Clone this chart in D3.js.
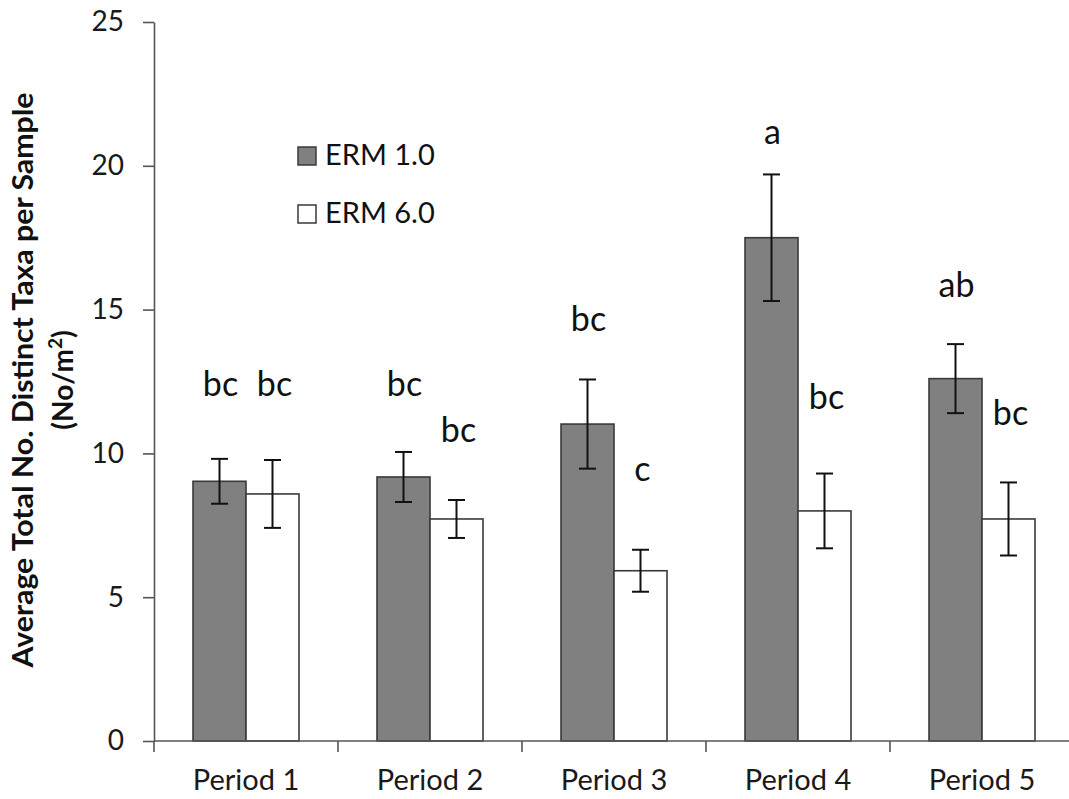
<!DOCTYPE html>
<html>
<head>
<meta charset="utf-8">
<script src="https://cdn.jsdelivr.net/npm/d3@7"></script>
<style>
  body { margin: 0; background: #fff; }
  svg { display: block; font-family: Lato, "Open Sans", sans-serif; }
</style>
</head>
<body>
<svg width="1069" height="799"></svg>
<script>
// chart values
const periods = ['Period 1', 'Period 2', 'Period 3', 'Period 4', 'Period 5']
const seriesNames = ['ERM 1.0', 'ERM 6.0']

const erm1Mean = [9.03, 9.18, 11.02, 17.5, 12.6]
const erm1Err = [0.78, 0.87, 1.55, 2.2, 1.2]
const erm6Mean = [8.59, 7.72, 5.92, 8.0, 7.72]
const erm6Err = [1.18, 0.66, 0.73, 1.3, 1.27]

// significance letters and the height (in y units) they sit at
const erm1Letters = ['bc', 'bc', 'bc', 'a', 'ab']
const erm1LetterY = [12.0, 12.0, 14.26, 20.76, 15.45]
const erm6Letters = ['bc', 'bc', 'c', 'bc', 'bc']
const erm6LetterY = [12.0, 10.4, 9.04, 11.53, 10.99]

const yTicks = [0, 5, 10, 15, 20, 25]

const colours = ['#808080', '#ffffff']

const svg = d3.select('svg')

const x0 = 154
const yBottom = 741
const yTop = 22
const step = 184

const x = d3.scaleBand()
  .domain(periods)
  .range([x0, x0 + step * periods.length])
  .paddingInner(0)
  .paddingOuter(0)

const x1 = d3.scaleBand()
  .domain(seriesNames)
  .range([0, x.bandwidth()])
  .paddingInner(0)
  .paddingOuter(0.736)

const y = d3.scaleLinear()
  .domain([0, 25])
  .range([yBottom, yTop])

// rows built from the arrays
const rows = []
periods.forEach((p, i) => {
  rows.push({ period: p, series: seriesNames[0], mean: erm1Mean[i], err: erm1Err[i], letter: erm1Letters[i], ly: erm1LetterY[i], c: 0 })
  rows.push({ period: p, series: seriesNames[1], mean: erm6Mean[i], err: erm6Err[i], letter: erm6Letters[i], ly: erm6LetterY[i], c: 1 })
})

// bars
svg.append('g')
  .selectAll('rect')
  .data(rows)
  .join('rect')
  .attr('x', d => x(d.period) + x1(d.series))
  .attr('y', d => y(d.mean))
  .attr('width', x1.bandwidth())
  .attr('height', d => y(0) - y(d.mean))
  .style('fill', d => colours[d.c])
  .style('stroke', '#3a3a3a')
  .style('stroke-width', 1.6)

// error bars
const cap = 8.5
const errG = svg.append('g')
  .selectAll('g')
  .data(rows)
  .join('g')
  .attr('transform', d => `translate(${x(d.period) + x1(d.series) + x1.bandwidth() / 2},0)`)
  .style('stroke', '#111')
  .style('stroke-width', 2)

errG.append('line')
  .attr('y1', d => y(d.mean + d.err))
  .attr('y2', d => y(d.mean - d.err))
errG.append('line')
  .attr('x1', -cap).attr('x2', cap)
  .attr('y1', d => y(d.mean + d.err))
  .attr('y2', d => y(d.mean + d.err))
errG.append('line')
  .attr('x1', -cap).attr('x2', cap)
  .attr('y1', d => y(d.mean - d.err))
  .attr('y2', d => y(d.mean - d.err))

// letters
svg.append('g')
  .selectAll('text')
  .data(rows)
  .join('text')
  .attr('x', d => x(d.period) + x1(d.series) + x1.bandwidth() / 2 + (d.c === 0 ? 1 : 2))
  .attr('y', d => y(d.ly))
  .attr('text-anchor', 'middle')
  .style('font-size', '34px')
  .style('fill', '#111')
  .text(d => d.letter)

// y axis
const yAxis = svg.append('g')
  .attr('transform', `translate(${x0},0)`)
  .call(d3.axisLeft(y).tickValues(yTicks).tickSize(11).tickPadding(19).tickSizeOuter(0))
yAxis.select('.domain').style('stroke', '#555').style('stroke-width', 1.6)
yAxis.selectAll('.tick line').style('stroke', '#555').style('stroke-width', 1.6)
yAxis.selectAll('.tick text')
  .style('font-size', '28px')
  .style('font-family', 'Lato, sans-serif')
  .style('fill', '#1a1a1a')

// x axis: line across, ticks between the groups, labels centred
const xAxis = svg.append('g')
  .attr('transform', `translate(0,${yBottom})`)
xAxis.append('line')
  .attr('x1', x0).attr('x2', 1069)
  .attr('y1', 0).attr('y2', 0)
  .style('stroke', '#555').style('stroke-width', 1.6)
xAxis.selectAll('line.sep')
  .data(periods)
  .join('line')
  .attr('class', 'sep')
  .attr('x1', d => x(d)).attr('x2', d => x(d))
  .attr('y1', 0).attr('y2', 11)
  .style('stroke', '#555').style('stroke-width', 1.6)
xAxis.selectAll('text')
  .data(periods)
  .join('text')
  .attr('x', d => x(d) + x.bandwidth() / 2)
  .attr('y', 49)
  .attr('text-anchor', 'middle')
  .style('font-size', '29px')
  .style('fill', '#1a1a1a')
  .text(d => d)

// y axis title
const title = svg.append('text')
  .attr('transform', 'translate(33,380) rotate(-90)')
  .attr('text-anchor', 'middle')
  .style('font-size', '28px')
  .style('font-weight', 'bold')
  .style('fill', '#111')
title.append('tspan')
  .attr('x', 0).attr('y', 0)
  .attr('textLength', 575)
  .attr('lengthAdjust', 'spacingAndGlyphs')
  .text('Average Total No. Distinct Taxa per Sample')
const t2 = title.append('tspan')
  .attr('x', 0).attr('y', 40)
t2.append('tspan').text('(No/m')
t2.append('tspan').attr('dy', -11).style('font-size', '19px').text('2')
t2.append('tspan').attr('dy', 11).text(')')

// legend
const legend = svg.append('g')
  .selectAll('g')
  .data(seriesNames)
  .join('g')
  .attr('transform', (d, i) => `translate(298,${147 + i * 58})`)
legend.append('rect')
  .attr('width', 18).attr('height', 18)
  .style('fill', (d, i) => colours[i])
  .style('stroke', '#3a3a3a')
  .style('stroke-width', 1.5)
legend.append('text')
  .attr('x', 27).attr('y', 18)
  .style('font-size', '29px')
  .style('fill', '#111')
  .text(d => d)
</script>
</body>
</html>
